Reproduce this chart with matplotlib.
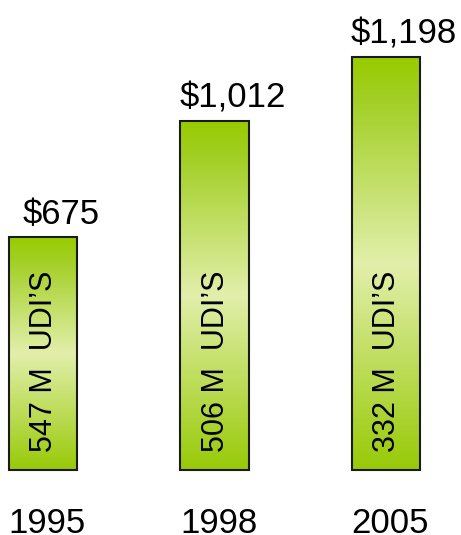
import numpy as np
import matplotlib
matplotlib.use("Agg")
import matplotlib.pyplot as plt
from matplotlib.colors import LinearSegmentedColormap

plt.rcParams['font.family'] = ['Liberation Sans', 'DejaVu Sans']

years = ["1995", "1998", "2005"]
values = [675, 1012, 1198]
value_labels = ["$675", "$1,012", "$1,198"]
inner_labels = ["547 M  UDI\u2019S", "506 M  UDI\u2019S", "332 M  UDI\u2019S"]

fig = plt.figure(figsize=(4.61, 5.35), dpi=100)
ax = fig.add_axes([0, 0, 1, 1])
ax.set_xlim(-0.251, 2.437)
ax.set_ylim(-188.7, 1364.3)
ax.axis('off')

# green -> light -> green vertical gradient
cmap = LinearSegmentedColormap.from_list(
    "g", [(0, "#98ca08"), (0.5, "#e2efab"), (0.9, "#a2cf24"), (1, "#99cc00")])
grad = np.linspace(0, 1, 256).reshape(-1, 1)

x = np.arange(len(years))
bars = ax.bar(x, values, width=0.4, color='none', edgecolor='#1a1a1a', linewidth=1.5, zorder=3)
for b in bars:
    x0, w, h = b.get_x(), b.get_width(), b.get_height()
    im = ax.imshow(grad, cmap=cmap, aspect='auto', origin='lower',
                   extent=[x0, x0 + w, 0, h], zorder=2)
    im.set_clip_path(b)

for i, b in enumerate(bars):
    cx = b.get_x() + b.get_width() / 2
    ax.annotate(value_labels[i].replace("$", r"\$"), (cx, values[i]),
                xytext=(13, 5), textcoords='offset points',
                ha='center', va='bottom', fontsize=25)
    ax.annotate(inner_labels[i], (cx, 0), xytext=(1, 13), textcoords='offset points',
                rotation=90, ha='center', va='bottom', fontsize=22, zorder=4)
    ax.annotate(years[i], (cx, 0), xytext=(3, -27), textcoords='offset points',
                ha='center', va='top', fontsize=25)

fig.savefig("out.png", dpi=100)
